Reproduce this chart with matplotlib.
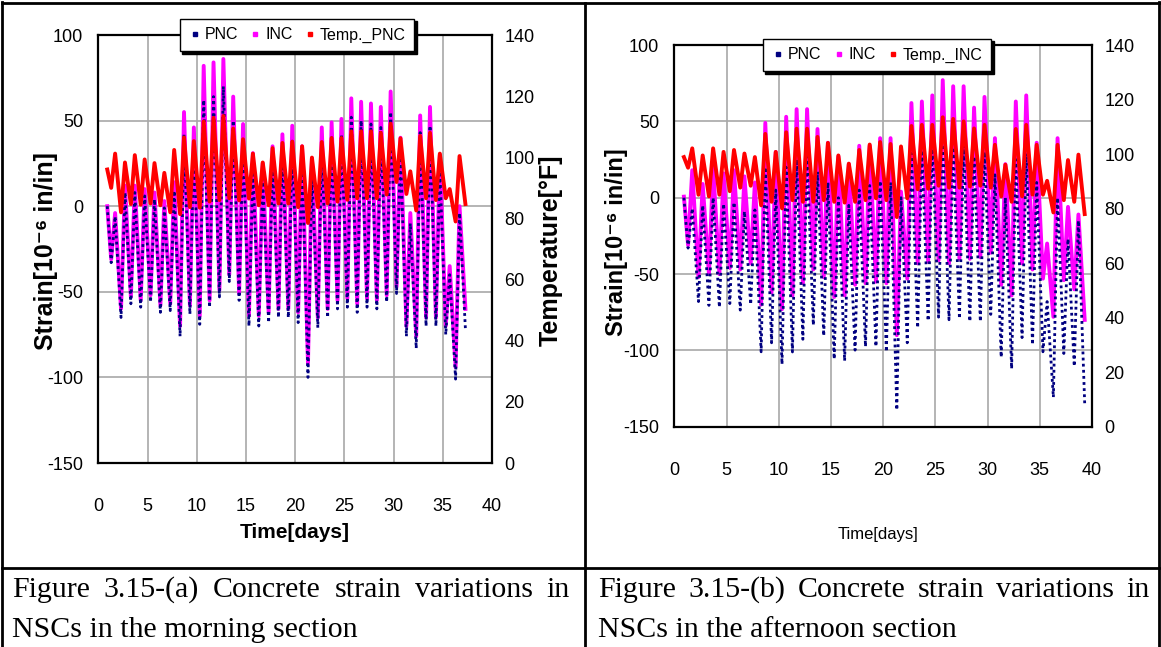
import numpy as np
import matplotlib
matplotlib.use('Agg')
import matplotlib.pyplot as plt
from matplotlib.lines import Line2D
from matplotlib import font_manager

# Values: one trough and one peak per daily cycle.
# troughs sit at day + 0.3, peaks at day + 0.7
TROUGH_PHASE = 0.3
PEAK_PHASE = 0.7

# (a) morning section, cycles of days 1..36
days_a = np.arange(1, 37)
t_start_a, t_end_a = 0.9, 37.3
pnc_trough_a = [-33, -65, -57, -59, -56, -62, -61, -76, -63, -69, -59, -53, -44, -55, -70, -70, -68, -65,
                -65, -68, -100, -71, -65, -60, -59, -62, -59, -60, -56, -51, -76, -83, -70, -70, -75, -101]
pnc_peak_a = [-6, 8, 8, 6, 4, -1, 9, 42, 36, 62, 64, 70, 50, 38, 22, 16, 26, 33,
              38, 27, 20, 36, 40, 42, 52, 50, 48, 46, 55, 32, -10, 43, 47, 22, -40, -4]
inc_trough_a = [-31, -60, -53, -55, -52, -58, -57, -70, -58, -64, -55, -49, -40, -51, -64, -64, -62, -60,
                -60, -62, -92, -65, -60, -55, -54, -57, -54, -55, -52, -47, -70, -76, -65, -65, -70, -94]
inc_peak_a = [-4, 12, 12, 10, 8, 3, 14, 55, 46, 82, 84, 86, 64, 48, 31, 25, 35, 42,
              47, 35, 28, 46, 49, 51, 63, 61, 60, 58, 67, 40, -4, 53, 58, 30, -35, 0]
temp_trough_a = [90, 82, 84.7, 84.5, 84.9, 84.3, 82, 81.4, 83.7, 83.5, 85.5, 86, 86.6, 85.9, 86.5, 84.3, 84.3, 84.9,
                 84.9, 83.7, 78.5, 83.7, 84.9, 85.5, 86.1, 86.6, 86.6, 86.6, 87.8, 91.9, 88, 82.6, 86.6, 86, 86.6, 79]
temp_peak_a = [101.2, 98.3, 100.7, 99.3, 98.1, 94.9, 102.4, 106.5, 105.3, 111.7, 112.9, 113.5, 109.4, 105.9, 101.2,
               98.3, 103, 104.7, 105.1, 103.6, 99.9, 105, 106.3, 106.3, 108.5, 108.5, 108.5, 108, 111, 106.2,
               95.4, 107, 108, 101.2, 89.6, 100.4]
pnc_ends_a = [0, -72]
inc_ends_a = [0, -60]
temp_ends_a = [96, 84.7]

# (b) afternoon section, cycles of days 1..38
days_b = np.arange(1, 39)
t_start_b, t_end_b = 0.9, 39.3
pnc_trough_b = [-33, -68, -70.5, -71.7, -69.3, -73.6, -69.8, -100.9, -95, -109, -101, -92.7, -83.4, -90.4, -105.6,
                -106.8, -99.8, -97.4, -97.4, -100.9, -139, -95, -85.2, -80.6, -78.2, -79.9, -79.2, -81, -81, -76.4,
                -104.4, -111.9, -91.6, -96.2, -100.9, -130.6, -102, -110.3]
pnc_peak_b = [-7, -5, 0, -4, -3, -9, -8, 20, 5, 20, 25, 27, 17, 10, 0, -5, 5, 8, 11, 10,
              0, 29, 31, 36, 37, 33, 34, 27, 30, 15, 0, 25, 29, 10, -68, 0, -27, -15]
inc_trough_b = [-31, -52, -50, -50, -46, -47, -43, -70, -62, -73, -64, -56, -47, -52, -65, -64, -57, -56, -55,
                -56, -90, -53, -43, -42, -41, -43, -40, -40, -39, -36, -57, -64, -43, -47, -53, -78, -54, -60]
inc_peak_b = [18, 9, 20, 16, 18, 14, 10, 49, 30, 53, 58, 58, 45, 36, 27, 22, 34, 34, 39,
              39, 4, 62, 63, 67, 77, 73, 73, 59, 66, 39, 22, 63, 67, 36, -30, 39, -6, -11]
temp_trough_b = [95, 85.1, 84.5, 85.1, 86.4, 87.7, 88.4, 81.2, 82.5, 80.1, 83.1, 82.5, 82.5, 83.1, 82.5, 82.2, 82.5,
                 83.1, 83.8, 83.1, 76.9, 83.8, 87.1, 87.3, 88.4, 87.7, 87.7, 88.1, 88.4, 87.7, 84.5, 82.5, 84.5,
                 85.1, 85.1, 78.6, 83.1, 82.5]
temp_peak_b = [102.1, 99.5, 102.1, 100.8, 101.5, 100.2, 98.9, 107.4, 100.8, 108, 109.3, 109.3, 106.3, 104.1, 99.5,
               96.5, 101.5, 103.5, 104.4, 103.7, 102.8, 110.3, 110.7, 110.7, 113.5, 112.9, 112, 109.4, 110.7,
               103.4, 96.1, 109.2, 110.7, 103.4, 90.2, 103.4, 97.8, 99.8]
pnc_ends_b = [0, -134.8]
inc_ends_b = [0.7, -80]
temp_ends_b = [98.9, 78]

strain_ticks = [-150, -100, -50, 0, 50, 100]
temp_ticks = [0, 20, 40, 60, 80, 100, 120, 140]
day_ticks = [0, 5, 10, 15, 20, 25, 30, 35, 40]

NAVY = '#000080'
MAGENTA = '#ff00ff'
RED = '#ff0000'
W, H = 1161, 647

names = {f.name for f in font_manager.fontManager.ttflist}
NARROW = 'Liberation Sans Narrow' if 'Liberation Sans Narrow' in names else 'Liberation Sans'
plt.rcParams['font.family'] = [NARROW, 'DejaVu Sans']
plt.rcParams['axes.unicode_minus'] = False


def cycle_series(days, trough, peak, ends, t0, t1):
    t = np.concatenate([[t0], np.column_stack([days + TROUGH_PHASE, days + PEAK_PHASE]).ravel(), [t1]])
    y = np.concatenate([[ends[0]], np.column_stack([trough, peak]).ravel(), [ends[1]]])
    return t, y


def px(x, y):
    # pixel (from top-left) -> figure fraction
    return x / W, 1 - y / H


def draw_panel(rect, days, t0, t1, pnc, inc, temp):
    ax = fig.add_axes(rect)
    ax.set_xlim(0, 40)
    ax.set_ylim(-150, 100)
    ax.set_xticks(day_ticks)
    ax.set_yticks(strain_ticks)
    ax.grid(True, color='#a8a8a8', lw=1.2)
    ax.set_axisbelow(True)
    for s in ax.spines.values():
        s.set_color('black')
        s.set_linewidth(1.6)
    ax.tick_params(length=0, labelsize=13)
    ax.tick_params(axis='x', pad=25)
    ax.tick_params(axis='y', pad=11)

    t, y = cycle_series(days, inc[0], inc[1], inc[2], t0, t1)
    ax.plot(t, y, color=MAGENTA, lw=2.8, zorder=3)
    t, y = cycle_series(days, pnc[0], pnc[1], pnc[2], t0, t1)
    ax.plot(t, y, color=NAVY, lw=2.0, ls=(0, (1, 1.2)), zorder=4)

    ax2 = ax.twinx()
    ax2.set_ylim(0, 140)
    ax2.set_yticks(temp_ticks)
    ax2.tick_params(length=0, labelsize=13, pad=9)
    for s in ax2.spines.values():
        s.set_visible(False)
    t, y = cycle_series(days, temp[0], temp[1], temp[2], t0, t1)
    ax2.plot(t, y, color=RED, lw=2.8)

    handles = [Line2D([0], [0], marker='s', ms=2.5, ls='none', color=c) for c in (NAVY, MAGENTA, RED)]
    return ax, ax2, handles


def justified(words, x0, x1, y, **kw):
    renderer = fig.canvas.get_renderer()
    texts = [fig.text(0, 1 - y / H, w, va='baseline', **kw) for w in words]
    widths = [tx.get_window_extent(renderer).width for tx in texts]
    gap = (x1 - x0 - sum(widths)) / (len(words) - 1)
    x = x0
    for tx, w in zip(texts, widths):
        tx.set_x(x / W)
        x += w + gap


fig = plt.figure(figsize=(W / 100, H / 100), dpi=100)

# table frame
for xs, ys in [([2, 2], [2, H]), ([1159, 1159], [2, H]), ([2, 1159], [3, 3]),
               ([585, 585], [3, H]), ([2, 1159], [568, 568])]:
    fig.add_artist(Line2D([x / W for x in xs], [1 - y / H for y in ys], color='black', lw=2))

legend_kw = dict(loc='center', ncol=3, fontsize=11.5, frameon=True, fancybox=False, edgecolor='black',
                 framealpha=1, shadow={'color': 'black', 'alpha': 1}, handletextpad=0.2,
                 columnspacing=0.7, handlelength=0.8, borderpad=0.55, borderaxespad=0)
ylab_kw = dict(ha='center', va='center', rotation=90, fontweight='bold',
               family=['Liberation Sans', 'DejaVu Sans'])

# (a)
ax_a, ax2_a, h_a = draw_panel([98.4 / W, 1 - 463 / H, 393.6 / W, 428 / H], days_a, t_start_a, t_end_a,
                              (pnc_trough_a, pnc_peak_a, pnc_ends_a),
                              (inc_trough_a, inc_peak_a, inc_ends_a),
                              (temp_trough_a, temp_peak_a, temp_ends_a))
fig.legend(h_a, ['PNC', 'INC', 'Temp._PNC'], bbox_to_anchor=px(297, 35), **legend_kw)
fig.text(*px(295, 532), 'Time[days]', ha='center', va='center', fontsize=15, fontweight='bold')
fig.text(*px(46, 251), 'Strain[10⁻⁶ in/in]', fontsize=18, **ylab_kw)
fig.text(*px(551, 250), 'Temperature[°F]', fontsize=18, **ylab_kw)

# (b)
ax_b, ax2_b, h_b = draw_panel([674.5 / W, 1 - 426.8 / H, 417.5 / W, 381.8 / H], days_b, t_start_b, t_end_b,
                              (pnc_trough_b, pnc_peak_b, pnc_ends_b),
                              (inc_trough_b, inc_peak_b, inc_ends_b),
                              (temp_trough_b, temp_peak_b, temp_ends_b))
fig.legend(h_b, ['PNC', 'INC', 'Temp._INC'], bbox_to_anchor=px(877, 55), **legend_kw)
fig.text(*px(878, 534), 'Time[days]', ha='center', va='center', fontsize=12)
fig.text(*px(617, 242), 'Strain[10⁻⁶ in/in]', fontsize=17, **ylab_kw)

# captions
cap = dict(fontsize=21.5, family=['Liberation Serif', 'DejaVu Serif'])
justified('Figure 3.15-(a) Concrete strain variations in'.split(), 12, 570, 597, **cap)
fig.text(12 / W, 1 - 637 / H, 'NSCs in the morning section', va='baseline', **cap)
justified('Figure 3.15-(b) Concrete strain variations in'.split(), 598, 1150, 597, **cap)
fig.text(598 / W, 1 - 637 / H, 'NSCs in the afternoon section', va='baseline', **cap)

fig.savefig('out.png', dpi=100)
